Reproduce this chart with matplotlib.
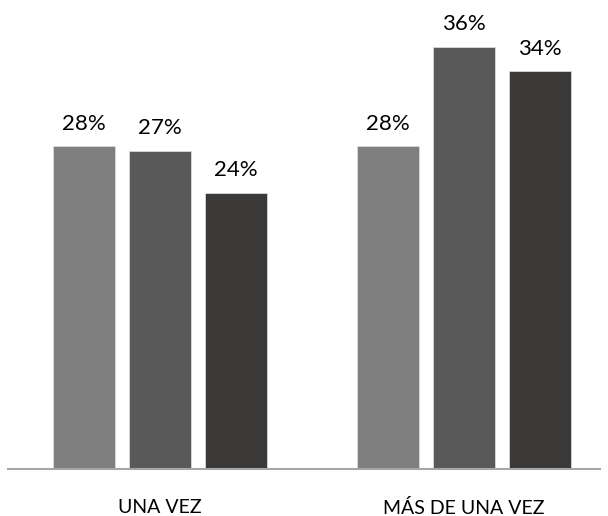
import matplotlib
matplotlib.use("Agg")
import matplotlib.pyplot as plt
import numpy as np

categories = ["UNA VEZ", "MÁS DE UNA VEZ"]
series_a = [27.6, 27.6]
series_b = [27.2, 36.1]
series_c = [23.6, 34.0]
colors = ["#7f7f7f", "#595959", "#3a3937"]

plt.rcParams['font.family'] = ['Lato', 'DejaVu Sans']

W, H = 608, 516
fig = plt.figure(figsize=(W/100, H/100), dpi=100)
base_px = 469
ax = fig.add_axes([8/W, (H-base_px)/H, 592/W, base_px/H])

x = np.arange(len(categories))
unit = 304.0
bw = 62/unit
step = 76/unit
for i, (vals, c) in enumerate(zip([series_a, series_b, series_c], colors)):
    pos = x + (i-1)*step
    ax.bar(pos, vals, width=bw, color=c, edgecolor="#d9d9d9", linewidth=0.6, zorder=2)
    for p, v in zip(pos, vals):
        ax.annotate(f"{v:.0f}%", (p, v), xytext=(0, 9), textcoords="offset points",
                    ha="center", va="bottom", fontsize=16, color="#000000")

ax.set_xlim(-0.5, 1 + 136/unit)
ax.set_ylim(0, base_px/11.7)
for s in ["top", "right", "left"]:
    ax.spines[s].set_visible(False)
ax.spines["bottom"].set_color("#a6a6a6")
ax.spines["bottom"].set_linewidth(1.5)
ax.set_yticks([])
ax.set_xticks(x)
ax.set_xticklabels(categories, fontsize=14)
ax.tick_params(axis="x", length=0, pad=21.5)

fig.savefig("out.png", dpi=100)
